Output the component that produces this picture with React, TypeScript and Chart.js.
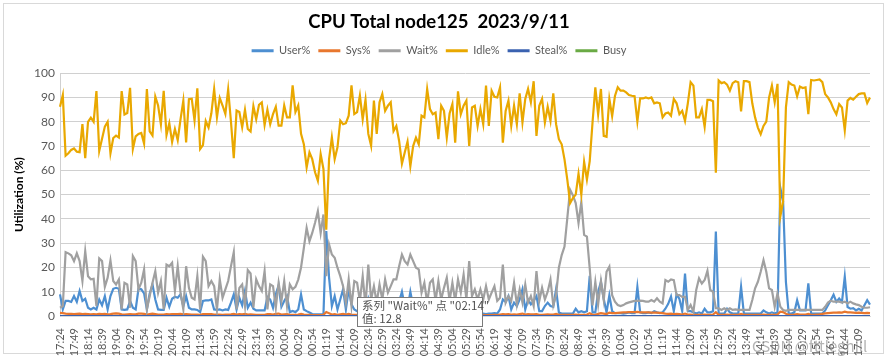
import React, { useEffect, useRef } from 'react';
import { Chart, registerables } from 'chart.js';

Chart.register(...registerables);

// ---- categories: 5-minute samples starting at 17:24 ----
const START_TIME = '17:24';
const STEP_MINUTES = 5;
const POINT_COUNT = 290;
const LABEL_EVERY = 5;

const timeLabels: string[] = (() => {
  const [h, m] = START_TIME.split(':').map(Number);
  const out: string[] = [];
  for (let i = 0; i < POINT_COUNT; i++) {
    const t = (h * 60 + m + i * STEP_MINUTES) % 1440;
    out.push(`${String(Math.floor(t / 60)).padStart(2, '0')}:${String(t % 60).padStart(2, '0')}`);
  }
  return out;
})();

// ---- series values ----
const userPct = [
  8.9, 2.7, 6.2, 6.2, 5.8, 8.2, 5.8, 10.3, 6.2, 7.1,
  3.4, 2.7, 3.4, 2.7, 6.8, 4.4, 8.2, 2.7, 8.2, 11.2,
  11.6, 11.2, 2.7, 2.5, 2.7, 6.2, 3.4, 2.7, 11.2, 11,
  9.3, 2.7, 9.3, 13, 6.8, 2.7, 2.5, 2.5, 7.5, 3.8,
  7.1, 7.9, 7.5, 8.9, 4.1, 8.2, 3.4, 2.7, 2.7, 2.5,
  1.6, 6.2, 6.4, 6.4, 6.8, 2.7, 2.5, 2.7, 2.3, 2.7,
  2.5, 5.5, 8.9, 2.7, 7.5, 4.4, 10.3, 3.4, 5.5, 3,
  2.3, 2.3, 2.3, 2.3, 7.9, 6.8, 3.4, 8.9, 12.6, 3.8,
  6.2, 8.2, 1.6, 2.1, 1.6, 2.7, 8.9, 2.7, 2, 1.4,
  0.8, 0.7, 0.7, 0.7, 0.7, 35, 15.8, 4.1, 8.2, 2.7,
  6.8, 11, 2.7, 11, 4.8, 2.7, 2, 2.7, 5, 2,
  7, 2.5, 4, 1.5, 2, 1.5, 3, 2, 1.8, 2.5,
  3, 6, 10, 4, 3, 10, 4, 2, 1.5, 1.5,
  1.2, 2, 1.5, 3, 1.5, 1.2, 2.5, 1.5, 1.2, 4,
  1.5, 1.2, 2, 1.5, 1.2, 1.5, 3, 1.2, 1.5, 1.2,
  1, 1, 0.8, 1, 1, 1.2, 1, 2.7, 6.8, 5.8,
  8.2, 2.7, 5.5, 4.1, 6.8, 11, 2.7, 6.8, 4.8, 6.2,
  8.2, 2, 2, 4.1, 5.5, 4.1, 3.8, 11, 1.4, 1,
  1, 1, 1, 1, 3, 1.5, 2, 1.5, 2, 16.5,
  1.5, 1.5, 10, 14, 7, 1.5, 8.5, 2, 1.2, 1.2,
  1.2, 1, 1.2, 1.5, 1.2, 1.2, 12, 1.5, 1.2, 1.2,
  1.5, 1.2, 2, 1.5, 1.2, 1.5, 3, 5, 8, 2,
  9, 7, 2, 17.5, 2, 2, 1.5, 1, 1.5, 1,
  3, 1.5, 1.5, 2, 34.8, 1, 1, 1, 3, 1.5,
  1, 1, 1, 12, 1, 1, 1, 1, 1, 1,
  1, 2.3, 1.5, 1, 1.5, 1, 1.5, 52.8, 47.2, 14,
  1, 1, 1.5, 6.5, 2.3, 2.3, 2.3, 13.4, 1, 1,
  1, 1, 1, 2.3, 4.4, 6.5, 8.8, 5.8, 7.2, 5.8,
  16.2, 3.7, 3, 3.2, 2.3, 3, 2.3, 4.4, 6.5, 4.7,
];

const sysPct = [
  1.3, 1.2, 1, 0.9, 0.9, 0.8, 0.9, 1, 0.8, 0.9,
  0.8, 0.7, 0.8, 0.7, 0.9, 0.8, 0.9, 0.7, 0.8, 1,
  1.1, 1, 0.7, 0.6, 0.7, 0.8, 0.7, 0.7, 1, 1,
  0.9, 0.6, 0.8, 1, 0.8, 0.6, 0.6, 0.6, 0.8, 0.7,
  0.8, 0.8, 0.8, 0.9, 0.7, 0.8, 0.7, 0.6, 0.6, 0.6,
  0.5, 0.8, 0.8, 0.8, 0.8, 0.6, 0.6, 0.6, 0.5, 0.6,
  0.6, 0.7, 0.9, 0.6, 0.8, 0.7, 0.9, 0.6, 0.7, 0.6,
  0.5, 0.5, 0.5, 0.5, 0.8, 0.8, 0.6, 0.9, 1, 0.6,
  0.7, 0.8, 0.5, 0.5, 0.5, 0.6, 0.9, 0.6, 0.5, 0.5,
  0.4, 0.4, 0.4, 0.4, 0.5, 1.6, 1.1, 0.6, 0.8, 0.5,
  0.7, 0.9, 0.6, 0.9, 0.6, 0.5, 0.5, 0.6, 0.7, 0.5,
  0.7, 0.5, 0.6, 0.5, 0.5, 0.5, 0.6, 0.5, 0.5, 0.6,
  0.6, 0.7, 0.9, 0.6, 0.6, 0.9, 0.6, 0.5, 0.5, 0.5,
  0.5, 0.5, 0.5, 0.6, 0.5, 0.5, 0.6, 0.5, 0.5, 0.6,
  0.5, 0.5, 0.5, 0.5, 0.5, 0.5, 0.6, 0.5, 0.5, 0.5,
  0.4, 0.4, 0.4, 0.4, 0.4, 0.5, 0.4, 0.6, 0.8, 0.7,
  0.8, 0.6, 0.7, 0.6, 0.8, 1, 0.6, 0.8, 0.7, 0.7,
  0.8, 0.5, 0.5, 0.6, 0.7, 0.6, 0.6, 0.9, 0.5, 0.5,
  0.5, 0.5, 0.5, 0.5, 0.6, 0.5, 0.5, 0.5, 0.6, 1.1,
  0.5, 0.5, 0.9, 1.2, 1, 0.8, 1.4, 1.2, 1.2, 1.3,
  1.4, 1.5, 1.5, 1.6, 1.6, 1.6, 1.7, 1.5, 1.5, 1.5,
  1.5, 1.4, 1.4, 1.4, 1.3, 1.2, 1, 0.9, 1, 0.8,
  0.9, 0.8, 0.6, 1, 0.6, 0.6, 0.5, 0.5, 0.5, 0.5,
  0.6, 0.5, 0.5, 0.6, 1.6, 0.5, 0.5, 0.5, 0.6, 0.5,
  0.5, 0.5, 0.5, 0.9, 0.5, 0.5, 0.5, 0.5, 0.5, 0.5,
  0.5, 0.6, 0.5, 0.5, 0.5, 0.5, 0.6, 1.8, 1.6, 0.9,
  0.5, 0.5, 0.6, 0.8, 0.6, 0.6, 0.6, 0.9, 0.5, 0.5,
  0.6, 0.7, 0.9, 1.1, 1.2, 1.3, 1.4, 1.4, 1.5, 1.4,
  1.8, 1.5, 1.5, 1.4, 1.3, 1.4, 1.3, 1.2, 1.3, 1.2,
];

const waitPct = [
  3.4, 4.1, 26.3, 25.8, 25, 22.6, 25.8, 22.6, 14.4, 26.7,
  16.4, 15.1, 15.3, 4.1, 23.7, 22.6, 12, 15.8, 22.9, 14.4,
  13, 15.1, 2.7, 13.7, 13, 3.4, 24.7, 22.6, 11, 13.7,
  19.2, 2.7, 8.2, 13.7, 18.4, 9.6, 14.4, 2.7, 21.2, 20.5,
  21.9, 10.3, 20.5, 9.6, 2.7, 20.5, 11.6, 7.5, 6.8, 16.4,
  2.7, 24.4, 22.6, 12.3, 14.4, 12.3, 2.7, 15.1, 7.5, 11,
  14.4, 20.5, 26.3, 2.7, 11.6, 13, 4.1, 18.9, 17.5, 3.4,
  15.1, 12.3, 10.3, 18.5, 2.7, 13, 12.3, 3.4, 13.7, 6.2,
  14.4, 4.1, 13, 11, 12, 15, 20, 28, 36.3, 30.8,
  34.2, 38.4, 43.2, 34.2, 41.8, 16.4, 29.5, 25.3, 24, 19.9,
  16.4, 12.3, 5.5, 15.1, 4.1, 14.4, 13.7, 6.2, 16.4, 4.1,
  21.2, 6.8, 12.3, 5.5, 13, 6.8, 15.1, 9.6, 12.3, 15.1,
  15.1, 20.5, 25.3, 22.6, 21.2, 25.3, 22.6, 19.9, 19.2, 9.6,
  13.7, 5.5, 13.7, 15.1, 6.2, 14.4, 6.8, 11.6, 15.8, 6.2,
  13.7, 6.2, 15.1, 9.6, 17.1, 6.8, 22.6, 8.2, 11, 6.8,
  11, 6.8, 12.3, 6.8, 9.6, 12.3, 6.2, 7.5, 21.2, 5.5,
  8.2, 6.2, 13.7, 4.8, 11, 5.5, 13, 5.5, 8.2, 4.1,
  18.5, 6.2, 11.6, 6.8, 10, 15, 4.4, 8.6, 20, 25.1,
  28.6, 40.3, 52, 49.7, 46.5, 38.3, 47, 33.4, 32.7, 19.6,
  4.4, 14.1, 4.8, 14.5, 6.6, 18.2, 20.3, 8.6, 5.9, 4.5,
  4.1, 4.5, 5.2, 5.6, 5.9, 6.2, 6.2, 6.3, 6.2, 5.9,
  5.9, 6.6, 5.9, 7.3, 5.9, 5.2, 14.8, 14.1, 15.1, 14.8,
  8.6, 8.6, 7.9, 7.9, 2.5, 4.5, 1.8, 10.7, 15.5, 13.4,
  14.8, 18.6, 10.7, 10, 3.2, 3.2, 2.5, 3.2, 2.5, 3.2,
  2.5, 2.7, 2.5, 2.5, 2.5, 2.5, 2.5, 6.6, 11.4, 14.1,
  18.2, 23, 18.2, 11.4, 10.7, 3.8, 9.3, 3.8, 2.5, 2.1,
  2.5, 2.5, 2.5, 2.5, 2.5, 2.5, 2.5, 2.5, 2.5, 2.5,
  2.5, 2.5, 2.5, 3.8, 5.5, 6.3, 5.9, 5.9, 5.9, 5.5,
  5.9, 5.2, 5.9, 5.2, 4.8, 4.5, 3.8, 3.4, 3.4, 3.6,
];

const idlePct = [
  86.2, 91, 66, 67, 68.4, 69, 67.7, 67.5, 79, 65,
  80, 81.7, 80, 92.6, 68, 73, 78, 80, 67, 73.3,
  74.3, 73.5, 92.6, 83, 83.6, 94, 68.8, 74, 75, 75.4,
  71, 93.5, 76, 74.3, 90.4, 86.7, 79, 92.7, 74.5, 79.4,
  71.7, 77, 72.4, 81, 88.7, 71.5, 89.3, 89.5, 80.5, 93.8,
  68.8, 70.4, 80.3, 77.6, 83.5, 93.5, 81.8, 89.8, 86.7, 83.2,
  93.3, 80, 65, 84.6, 84, 77.7, 84.9, 77, 76, 86.4,
  81, 87, 88, 78.7, 85, 79, 83.2, 86.2, 78.4, 78.4,
  86.7, 81.8, 81.8, 95, 84, 86.7, 75, 70.8, 61.2, 67.4,
  64.6, 59.2, 55.7, 66.7, 60.5, 35.5, 64.6, 73.6, 64.6, 69.5,
  80.5, 79, 79.4, 82.5, 95, 83.2, 84, 90.8, 81, 89.1,
  75, 70.1, 88.7, 75, 88, 91.4, 84.5, 86.6, 88, 76.2,
  78.3, 72.1, 62.7, 67.3, 71.8, 61.7, 70, 73.5, 70.7, 82.5,
  81.8, 93.5, 85.2, 83.1, 83.8, 72.8, 86.6, 84.5, 73.5, 83.4,
  87.3, 71.4, 92.5, 83.1, 86.6, 88.7, 70, 85.9, 86.6, 78.3,
  85.2, 79, 94.9, 78.3, 92.8, 90.3, 90, 94.2, 71.4, 84.5,
  88.7, 78.3, 86.6, 79, 91.7, 79.7, 89.4, 93.5, 88, 96.7,
  74.2, 86.6, 89.4, 79.7, 86.2, 80.4, 91.7, 79, 72.8, 70.7,
  64.5, 56.2, 46.5, 48.6, 50, 58.6, 50, 63.5, 56.2, 63.8,
  79.7, 94.2, 83.1, 93.5, 74.2, 73.8, 89.4, 82.3, 90.6, 94.2,
  92.8, 92.8, 92.1, 91, 90.7, 90.5, 80.1, 89.6, 89.6, 90,
  89.6, 90, 87.6, 88, 87.6, 81.8, 83.4, 83.8, 82.5, 89.4,
  87.6, 83.1, 84.5, 80.4, 87.6, 96.3, 94.9, 81.8, 81.8, 85.2,
  77.9, 89, 89, 88.5, 59, 97, 95.9, 96.3, 95.3, 92.8,
  95.9, 96.7, 96.3, 84.3, 96.7, 96.7, 96.3, 87.6, 81.8, 77.6,
  74.9, 78.3, 80.1, 90, 94.9, 88, 95.6, 41, 47.2, 85.9,
  96.3, 95.3, 94.9, 90.5, 94.5, 93.9, 94.2, 83.1, 97.2, 97,
  97.2, 97.4, 96.3, 91.4, 90, 88, 85.2, 83.1, 87.3, 85.9,
  76.5, 88.7, 89.8, 89.1, 90.3, 91.4, 91.7, 91.7, 87.7, 90,
];

const stealPct = [
  0, 0, 0, 0, 0, 0, 0, 0, 0, 0, 0, 0, 0, 0, 0, 0, 0, 0, 0, 0, 0, 0, 0, 0, 0, 0, 0, 0, 0, 0,
  0, 0, 0, 0, 0, 0, 0, 0, 0, 0, 0, 0, 0, 0, 0, 0, 0, 0, 0, 0, 0, 0, 0, 0, 0, 0, 0, 0, 0, 0,
  0, 0, 0, 0, 0, 0, 0, 0, 0, 0, 0, 0, 0, 0, 0, 0, 0, 0, 0, 0, 0, 0, 0, 0, 0, 0, 0, 0, 0, 0,
  0, 0, 0, 0, 0, 0, 0, 0, 0, 0, 0, 0, 0, 0, 0, 0, 0, 0, 0, 0, 0, 0, 0, 0, 0, 0, 0, 0, 0, 0,
  0, 0, 0, 0, 0, 0, 0, 0, 0, 0, 0, 0, 0, 0, 0, 0, 0, 0, 0, 0, 0, 0, 0, 0, 0, 0, 0, 0, 0, 0,
  0, 0, 0, 0, 0, 0, 0, 0, 0, 0, 0, 0, 0, 0, 0, 0, 0, 0, 0, 0, 0, 0, 0, 0, 0, 0, 0, 0, 0, 0,
  0, 0, 0, 0, 0, 0, 0, 0, 0, 0, 0, 0, 0, 0, 0, 0, 0, 0, 0, 0, 0, 0, 0, 0, 0, 0, 0, 0, 0, 0,
  0, 0, 0, 0, 0, 0, 0, 0, 0, 0, 0, 0, 0, 0, 0, 0, 0, 0, 0, 0, 0, 0, 0, 0, 0, 0, 0, 0, 0, 0,
  0, 0, 0, 0, 0, 0, 0, 0, 0, 0, 0, 0, 0, 0, 0, 0, 0, 0, 0, 0, 0, 0, 0, 0, 0, 0, 0, 0, 0, 0,
  0, 0, 0, 0, 0, 0, 0, 0, 0, 0, 0, 0, 0, 0, 0, 0, 0, 0, 0, 0,
];

const busyPct: number[] = []; // no Busy values plotted

const seriesNames = ['User%', 'Sys%', 'Wait%', 'Idle%', 'Steal%', 'Busy'];
const seriesValues = [userPct, sysPct, waitPct, idlePct, stealPct, busyPct];
const seriesColors = ['#4D8FD1', '#E8772E', '#A0A0A0', '#E9A800', '#3A62B0', '#6AAA45'];

const yTicks = [0, 10, 20, 30, 40, 50, 60, 70, 80, 90, 100];

const TITLE = 'CPU Total node125  2023/9/11';
const Y_TITLE = 'Utilization (%)';
const FONT = 'Lato, "Open Sans", sans-serif';

const LEGEND_EXTRA_SPACE = 7;

const legendSpacer = {
  id: 'legendSpacer',
  beforeInit(chart: any) {
    const legend = chart.legend;
    if (!legend) return;
    const origFit = legend.fit;
    legend.fit = function (this: any) {
      origFit.call(this);
      this.height += LEGEND_EXTRA_SPACE;
    };
  },
};

export default function App() {
  const canvasRef = useRef<HTMLCanvasElement | null>(null);

  useEffect(() => {
    const canvas = canvasRef.current;
    if (!canvas) return;
    const chart = new Chart(canvas, {
      type: 'line',
      data: {
        labels: timeLabels,
        datasets: seriesNames.map((name, i) => ({
          label: name,
          data: seriesValues[i],
          borderColor: seriesColors[i],
          backgroundColor: seriesColors[i],
          borderWidth: 2.2,
          pointRadius: 0,
          tension: 0,
          fill: false,
          order: seriesNames.length - i,
        })),
      },
      options: {
        responsive: false,
        animation: false,
        events: [],
        layout: { padding: { left: 8, right: 20, top: 0, bottom: 0 } },
        plugins: {
          title: {
            display: true,
            text: TITLE,
            color: '#000',
            font: { family: FONT, size: 18.5, weight: 'bold' },
            padding: { top: 11, bottom: 4 },
          },
          legend: {
            display: true,
            position: 'top',
            labels: {
              color: '#595959',
              font: { family: FONT, size: 11 },
              boxWidth: 22,
              boxHeight: 3,
              padding: 8,
              sort: (a: any, b: any) => a.datasetIndex - b.datasetIndex,
              generateLabels: (c: any) =>
                Chart.defaults.plugins.legend.labels
                  .generateLabels(c)
                  .map((l: any) => ({ ...l, lineWidth: 0 })),
            },
          },
          tooltip: { enabled: false },
        },
        scales: {
          x: {
            type: 'category',
            offset: false,
            grid: { display: false },
            border: { display: true, color: '#d9d9d9' },
            ticks: {
              autoSkip: false,
              minRotation: 90,
              maxRotation: 90,
              padding: 4,
              color: '#595959',
              font: { family: FONT, size: 11 },
              callback: (_v: any, index: number) =>
                index % LABEL_EVERY === 0 ? timeLabels[index] : '',
            },
            afterFit: (s: any) => {
              s.height = 48;
            },
          },
          y: {
            min: 0,
            max: 100,
            afterBuildTicks: (s: any) => {
              s.ticks = yTicks.map((v) => ({ value: v }));
            },
            grid: { color: '#d0d0d0', lineWidth: 1, drawTicks: false },
            border: { display: true, color: '#d0d0d0' },
            ticks: {
              color: '#595959',
              font: { family: FONT, size: 12 },
              padding: 5,
            },
            title: {
              display: true,
              text: Y_TITLE,
              color: '#000',
              font: { family: FONT, size: 12, weight: 'bold' },
              padding: { top: 4, bottom: 4 },
            },
            afterFit: (s: any) => {
              s.width = 52;
            },
          },
        },
      },
      plugins: [legendSpacer],
    });
    return () => chart.destroy();
  }, []);

  return (
    <div
      style={{
        position: 'fixed',
        left: 0,
        top: 0,
        width: 890,
        height: 364,
        background: '#fff',
        overflow: 'hidden',
      }}
    >
      <div
        style={{
          position: 'absolute',
          left: 3,
          top: 3,
          width: 881,
          height: 351,
          border: '1px solid #d9d9d9',
          boxSizing: 'border-box',
        }}
      />
      <canvas
        ref={canvasRef}
        width={890}
        height={364}
        style={{ position: 'absolute', left: 0, top: 0, width: 890, height: 364 }}
      />
      <div
        style={{
          position: 'absolute',
          left: 357,
          top: 297,
          width: 126,
          height: 30,
          boxSizing: 'border-box',
          border: '1px solid #7a7a7a',
          background: '#fff',
          padding: '1px 4px',
          fontFamily: '"Noto Sans CJK SC", sans-serif',
          fontSize: 11.5,
          lineHeight: '13px',
          color: '#505050',
          whiteSpace: 'nowrap',
        }}
      >
        <div>系列 "Wait%" 点 "02:14"</div>
        <div>值: 12.8</div>
      </div>
      <div
        style={{
          position: 'absolute',
          left: 752,
          top: 335,
          fontFamily: '"Noto Sans CJK SC", sans-serif',
          fontSize: 15,
          color: 'rgba(130,130,130,0.6)',
          whiteSpace: 'nowrap',
        }}
      >
        CSDN @fttleghill
      </div>
    </div>
  );
}
